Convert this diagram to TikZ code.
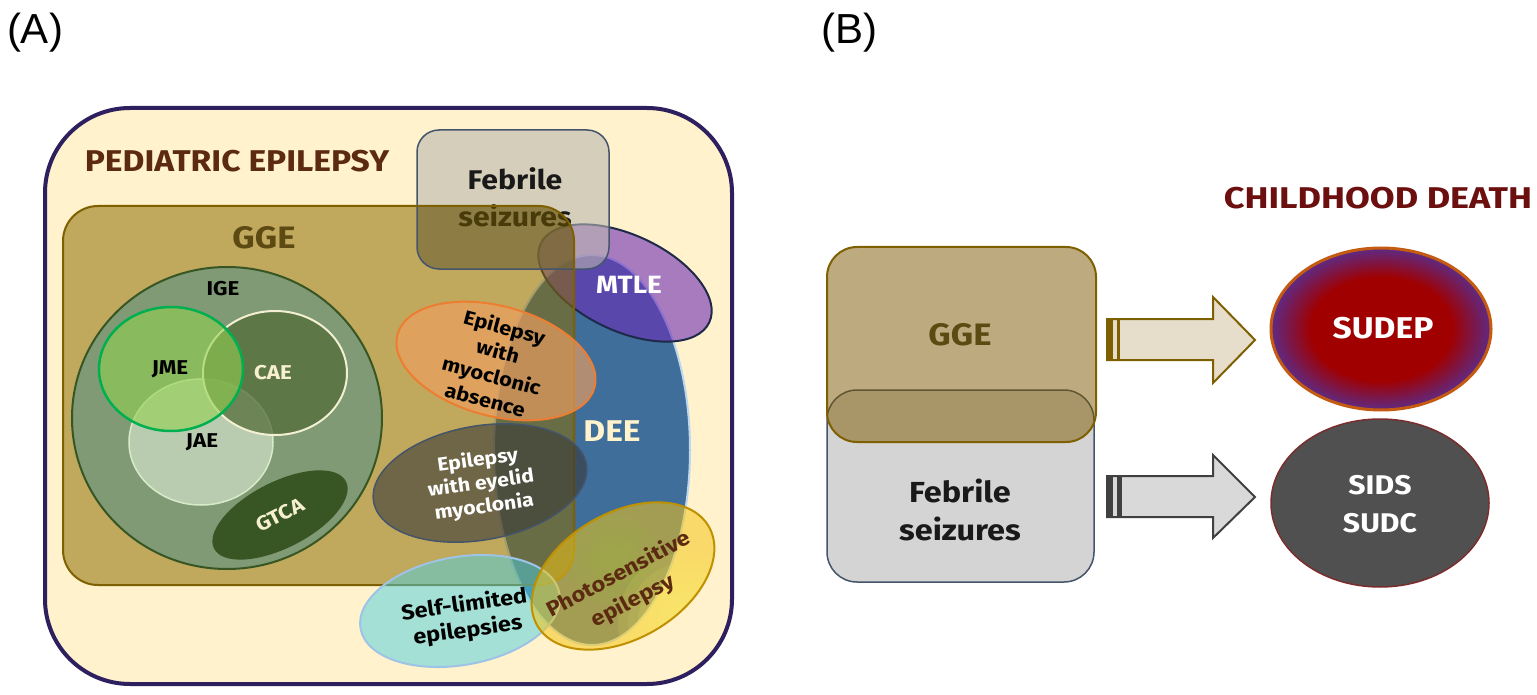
\documentclass[tikz,border=0pt]{standalone}
\usepackage{fontspec}
\setmainfont{Fira Sans}[FakeStretch=1.12]
\newfontfamily\widefont{Fira Sans}[FakeStretch=1.2]
\newfontfamily\plainfont{Liberation Sans}
\usetikzlibrary{shapes.geometric}
\definecolor{outerc}{HTML}{2E1F5E}
\definecolor{bgA}{HTML}{FFF2CC}
\definecolor{ggeA}{RGB}{142,109,2}
\definecolor{ggeline}{HTML}{7F6000}
\definecolor{febfill}{RGB}{185,182,177}
\definecolor{febline}{HTML}{44546A}
\definecolor{deefill}{RGB}{62,110,153}
\definecolor{deeline}{HTML}{BDD7EE}
\definecolor{mtlefill}{RGB}{110,45,183}
\definecolor{mtleline}{HTML}{1F2A4A}
\definecolor{igefill}{HTML}{7F9A74}
\definecolor{igeline}{HTML}{375623}
\definecolor{jaefill}{HTML}{E2EED8}
\definecolor{jaeline}{HTML}{D8EBC8}
\definecolor{caefill}{HTML}{536C38}
\definecolor{caeline}{HTML}{F2EFD2}
\definecolor{jmefill}{HTML}{92D050}
\definecolor{jmeline}{HTML}{00B050}
\definecolor{gtcafill}{HTML}{375623}
\definecolor{cream}{HTML}{F7F0D0}
\definecolor{myofill}{HTML}{F0A060}
\definecolor{myoline}{HTML}{ED7D31}
\definecolor{eyefill}{HTML}{3A3A3A}
\definecolor{slfill}{HTML}{4DD0E1}
\definecolor{slline}{HTML}{9DC3E6}
\definecolor{phofill}{HTML}{F5C518}
\definecolor{phoglow}{HTML}{FFF36B}
\definecolor{phogreen}{HTML}{9CC23A}
\definecolor{pholine}{HTML}{BF9000}
\definecolor{browntxt}{HTML}{5C2A10}
\definecolor{ggetxt}{HTML}{5C4A12}
\definecolor{ggeB}{RGB}{125,89,0}
\definecolor{febB}{HTML}{D4D4D4}
\definecolor{arrowA}{HTML}{E6DECB}
\definecolor{arrowB}{HTML}{D9D9D9}
\definecolor{arrowBline}{HTML}{404040}
\definecolor{sudred}{HTML}{A00000}
\definecolor{sudpur}{HTML}{5E2A84}
\definecolor{sudline}{HTML}{C55A11}
\definecolor{sidsfill}{HTML}{505050}
\definecolor{sidsline}{HTML}{7B2C2C}
\definecolor{deathtxt}{HTML}{6B0F0F}
\pgfdeclareradialshading{sudepshade}{\pgfpoint{0bp}{0bp}}{color(0bp)=(sudred); color(16bp)=(sudred); color(25bp)=(sudpur); color(50bp)=(sudpur)}
\begin{document}
\begin{tikzpicture}[x=1pt,y=-1pt,
  lbl/.style={inner sep=0pt, align=center},
  b20/.style={font=\bfseries\fontsize{20}{24}\selectfont}]
\useasboundingbox (0,0) rectangle (1537,695);
\fill[white] (0,0) rectangle (1537,695);

% ---------- Panel labels
\node[lbl, font=\plainfont\fontsize{42}{46}\selectfont] (labA) at (35,33) {(A)};
\node[lbl, font=\plainfont\fontsize{42}{46}\selectfont] (labB) at (849,33) {(B)};

% ---------- Panel A
\draw[line width=4, draw=outerc, fill=bgA, rounded corners=85] (45,108) rectangle (732,684);
\node[lbl, font=\bfseries\fontsize{30}{34}\selectfont, text=browntxt] (ped) at (237,161) {PEDIATRIC EPILEPSY};

% DEE
\fill[deefill] (592,450) ellipse [x radius=98, y radius=195];
\draw[deeline, line width=2] (592,450) ellipse [x radius=98, y radius=195];
% MTLE
\fill[mtlefill, opacity=0.6, rotate around={-25:(625,283)}] (625,283) ellipse [x radius=93, y radius=48];
\draw[mtleline, line width=2, rotate around={-25:(625,283)}] (625,283) ellipse [x radius=93, y radius=48];
% Febrile box
\fill[febfill, opacity=0.6, rounded corners=22] (417,130) rectangle (609,269);
\node[lbl, font=\bfseries\fontsize{27}{37}\selectfont, text=black!90] (febA) at (515,197) {Febrile\\seizures};
% GGE
\fill[ggeA, opacity=0.55, rounded corners=35] (63,206) rectangle (574,585);
\begin{scope}
  \clip[rounded corners=22] (417,130) rectangle (609,269);
  \fill[black, opacity=0.18, rounded corners=35] (63,206) rectangle (574,585);
\end{scope}
\draw[febline, line width=1.5, rounded corners=22] (417,130) rectangle (609,269);
\draw[ggeline, line width=2, rounded corners=35] (63,206) rectangle (574,585);
\node[lbl, font=\bfseries\fontsize{31}{34}\selectfont, text=ggetxt] (ggeA) at (264,238) {GGE};

% IGE group
\draw[fill=igefill, draw=igeline, line width=2] (227,418) ellipse [x radius=155, y radius=151];
\fill[jaefill, opacity=0.6] (201,442) ellipse [x radius=72, y radius=63];
\draw[jaeline, line width=1.5] (201,442) ellipse [x radius=72, y radius=63];
\fill[caefill, opacity=0.75] (275,373) ellipse [x radius=72, y radius=62];
\draw[caeline, line width=2] (275,373) ellipse [x radius=72, y radius=62];
\fill[jmefill, opacity=0.6] (171,369) ellipse [x radius=72, y radius=62];
\draw[jmeline, line width=2.5] (171,369) ellipse [x radius=72, y radius=62];
\fill[gtcafill, rotate around={27:(280,515)}] (280,515) ellipse [x radius=74, y radius=33];
\node[lbl, b20] (ige) at (223,289) {IGE};
\node[lbl, b20] (jme) at (170,369) {JME};
\node[lbl, b20, text=cream] (cae) at (273,373) {CAE};
\node[lbl, b20] (jae) at (202,442) {JAE};
\node[lbl, b20, text=cream, rotate=27] (gtca) at (280,515) {GTCA};
\node[lbl, font=\bfseries\fontsize{25}{28}\selectfont, text=white] (mtle) at (629,285) {MTLE};
\node[lbl, font=\bfseries\fontsize{30}{33}\selectfont, text=bgA] (dee) at (612,431) {DEE};

% myoclonic absence
\fill[myofill, opacity=0.65, rotate around={-15:(496,361)}] (496,361) ellipse [x radius=102, y radius=55];
\draw[myoline, line width=2, rotate around={-15:(496,361)}] (496,361) ellipse [x radius=102, y radius=55];
\node[lbl, font=\bfseries\fontsize{19.5}{25}\selectfont, rotate=-15] (myo) at (495,363) {Epilepsy\\with\\myoclonic\\absence};
% eyelid myoclonia
\fill[eyefill, opacity=0.6, rotate around={10:(480,483)}] (480,483) ellipse [x radius=108, y radius=57];
\draw[febline, line width=1.5, rotate around={10:(480,483)}] (480,483) ellipse [x radius=108, y radius=57];
\node[lbl, font=\bfseries\fontsize{19}{23.5}\selectfont, text=white, rotate=8] (eye) at (481,484) {Epilepsy\\with eyelid\\myoclonia};
% self-limited
\fill[slfill, opacity=0.5, rotate around={10:(460,611)}] (460,611) ellipse [x radius=101, y radius=54];
\draw[slline, line width=2, rotate around={10:(460,611)}] (460,611) ellipse [x radius=101, y radius=54];
\node[lbl, font=\bfseries\fontsize{21}{26}\selectfont, rotate=8] (self) at (466,618) {Self-limited\\epilepsies};
% photosensitive
\fill[phofill, opacity=0.55, rotate around={30:(623,576)}] (623,576) ellipse [x radius=99, y radius=63];
\begin{scope}
  \clip[rotate around={30:(623,576)}] (623,576) ellipse [x radius=99, y radius=63];
  \foreach \r in {70,60,50,40,30,20} {\fill[phoglow, opacity=0.1] (688,622) circle [radius=\r];}
  \foreach \r in {45,35,25,15} {\fill[phogreen, opacity=0.08] (615,560) circle [radius=\r];}
\end{scope}
\draw[pholine, line width=2, rotate around={30:(623,576)}] (623,576) ellipse [x radius=99, y radius=63];
\node[lbl, font=\bfseries\fontsize{21}{30}\selectfont, text=browntxt, rotate=28] (photo) at (626,588) {Photosensitive\\epilepsy};

% ---------- Panel B
\node[lbl, font=\widefont\bfseries\fontsize{30}{34}\selectfont, text=deathtxt] (death) at (1378,198) {CHILDHOOD DEATH};

\draw[febline, line width=1.5, fill=febB, rounded corners=30] (827,390) rectangle (1094,582);
\fill[ggeB, opacity=0.5, rounded corners=30] (827,247) rectangle (1096,442);
\draw[ggeline, line width=2, rounded corners=30] (827,247) rectangle (1096,442);
\node[lbl, font=\bfseries\fontsize{31}{33}\selectfont, text=ggetxt] (ggeB) at (960,335) {GGE};
\node[lbl, font=\bfseries\fontsize{29}{38}\selectfont, text=black!90] (febBt) at (960,510) {Febrile\\seizures};

% upper striped arrow
\draw[ggeline, line width=2, fill=arrowA, line join=miter]
  (1107,319) -- (1213,319) -- (1213,297) -- (1255,340) -- (1213,383) -- (1213,360) -- (1107,360) -- cycle;
\fill[ggeline] (1107,319) rectangle (1113,360);
\fill[ggeline] (1117,319) rectangle (1119.5,360);
% lower striped arrow
\draw[arrowBline, line width=2, fill=arrowB, line join=miter]
  (1107,476) -- (1213,476) -- (1213,455) -- (1255,497) -- (1213,538) -- (1213,517) -- (1107,517) -- cycle;
\fill[arrowBline] (1107,476) rectangle (1113,517);
\fill[arrowBline] (1117,476) rectangle (1122,517);

% SUDEP
\shade[shading=sudepshade] (1381,329) ellipse [x radius=110, y radius=81];
\draw[sudline, line width=3] (1381,329) ellipse [x radius=110, y radius=81];
\node[lbl, font=\bfseries\fontsize{30}{34}\selectfont, text=white] (sudep) at (1383,328) {SUDEP};
% SIDS SUDC
\draw[sidsline, line width=1.5, fill=sidsfill] (1380,503) ellipse [x radius=109, y radius=84];
\node[lbl, font=\bfseries\fontsize{27}{38}\selectfont, text=white] (sids) at (1380,504) {SIDS\\SUDC};
\end{tikzpicture}
\end{document}
